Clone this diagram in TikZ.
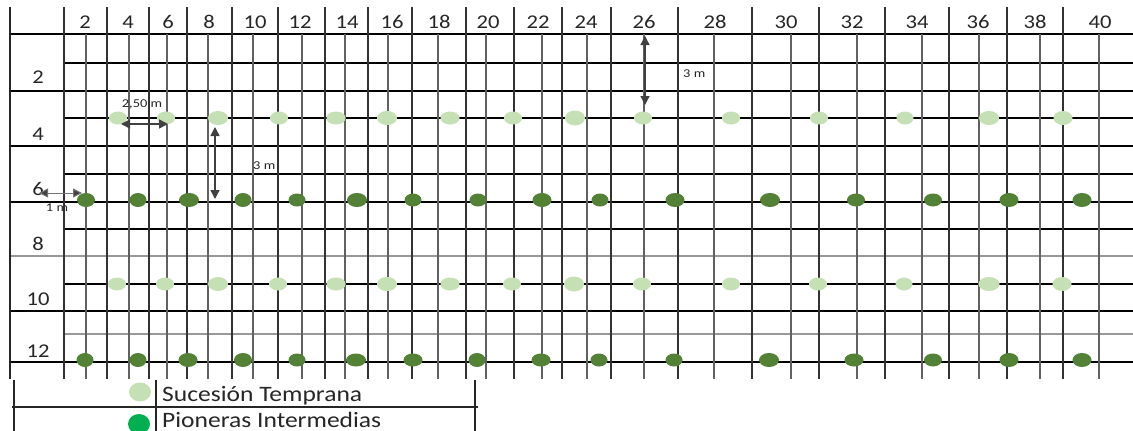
\documentclass[tikz,border=0pt]{standalone}
\usepackage{fontspec}
\setmainfont{Carlito}
\usetikzlibrary{arrows.meta,shapes.geometric}
\definecolor{lightg}{HTML}{C5E0B4}
\definecolor{darkg}{HTML}{538135}
\definecolor{legg}{HTML}{00B050}
\definecolor{arrowc}{HTML}{404040}
\definecolor{txt}{HTML}{262626}
\newcommand\wideT[2][1.16]{\scalebox{#1}[1]{#2}}
\begin{document}
\begin{tikzpicture}[x=1pt,y=-1pt,
  gridv/.style={line width=1.3pt, black!62},
  gridsep/.style={line width=1.3pt, black!80},
  gridh/.style={line width=1.2pt, black},
  gridhl/.style={line width=1.2pt, black!40},
  legline/.style={line width=1.2pt, black!85},
  hdr/.style={anchor=base, inner sep=0pt, text=txt, font=\fontsize{19.5}{20}\selectfont},
  small/.style={inner sep=0pt, text=txt, font=\fontsize{12}{12}\selectfont},
  legtext/.style={anchor=base west, inner sep=0pt, text=txt, font=\fontsize{22}{22}\selectfont},
  dot/.style={ellipse, inner sep=0pt, draw=none},
  lightdot/.style={dot, fill=lightg},
  darkdot/.style={dot, fill=darkg},
  dim/.style={line width=1.4pt, arrowc, {Triangle[length=9pt,width=9pt]}-{Triangle[length=9pt,width=9pt]}},
  dimthin/.style={line width=1pt, black!55, {Triangle[length=9pt,width=9pt,fill=arrowc]}-{Triangle[length=9pt,width=9pt,fill=arrowc]}}
]
\useasboundingbox (0,0) rectangle (1133,431);

% horizontal grid lines
\foreach \y in {34,91,146,202,311,362} \draw[gridh] (10,\y) -- (1133,\y);
\draw[gridhl] (10,256) -- (1133,256);
\foreach \y in {63,118,174,229,284} \draw[gridh] (64,\y) -- (1133,\y);
\draw[gridhl] (64,334) -- (1133,334);

% vertical grid lines
\foreach \x in {86,129,167,208,253,302,345,388,438,486,542,587,644,714,791,857,922,979,1040,1099}
  \draw[gridv] (\x,34) -- (\x,379);
\foreach \x in {64,107,149,187,232,278,325,368,412,466,514,562,611,678,752,819,885,949,1007,1063}
  \draw[gridsep] (\x,7) -- (\x,379);
\draw[line width=2.6pt, black!85] (10,7) -- (10,379);

% column headers
\foreach \x/\n in {85/2,128/4,168/6,209/8,255/10,300/12,347/14,392/16,439/18,488/20,538/22,586/24,644/26,715/28,786/30,852/32,917/34,978/36,1035/38,1100/40}
  \node[hdr] (col\n) at (\x,28) {\wideT{\n}};

% row labels
\foreach \y/\n in {83.5/2,140/4,195/6,250/8,305/10,357/12}
  \node[hdr] (row\n) at (38,\y) {\wideT{\n}};

% light dots (Sucesion Temprana)
\foreach \x/\w/\h [count=\i] in {118/18/13,166/18/13,218/20/14,279/18/13,336/19/13,387/20/14,450/19/13,513/18/13,575/20/15,643/18/13,731/18/13,819/18/13,905/17/13,989/20/14,1063/19/14}
  \node[lightdot, minimum width=\w pt, minimum height=\h pt] (sa\i) at (\x,118) {};
\foreach \x/\w/\h [count=\i] in {117/18/13,165/18/13,218/20/14,278/18/13,336/19/13,387/20/14,450/19/13,512/18/13,574/20/15,642/18/13,731/18/13,818/18/13,904/17/13,989/21/14,1062/19/14}
  \node[lightdot, minimum width=\w pt, minimum height=\h pt] (sb\i) at (\x,284) {};

% dark dots (Pioneras Intermedias)
\foreach \x/\w/\h [count=\i] in {86/18/14,138/17/14,189/20/14,243/17/14,297/17/13,357/20/14,413/17/13,478/17/13,542/19/14,600/17/13,675/19/14,770/20/14,856/18/13,933/18/13,1009/19/14,1082/19/14}
  \node[darkdot, minimum width=\w pt, minimum height=\h pt] (pa\i) at (\x,200) {};
\foreach \x/\w/\h [count=\i] in {85/17/14,138/17/14,188/19/14,243/18/14,297/17/13,356/20/13,413/19/13,477/17/14,541/19/13,599/17/13,674/17/13,769/20/14,854/19/13,933/18/13,1009/19/14,1082/19/14}
  \node[darkdot, minimum width=\w pt, minimum height=\h pt] (pb\i) at (\x,360) {};

% dimension arrows
\coordinate (a1l) at (121,124); \coordinate (a1r) at (168,124);
\draw[dim] (a1l) -- (a1r);
\node[small] (t250) at (142,104) {\wideT[1.2]{2,50 m}};
\coordinate (a2t) at (215,127); \coordinate (a2b) at (215,199);
\draw[dim] (a2t) -- (a2b);
\node[small, anchor=west] (t3a) at (253,166) {\wideT[1.2]{3 m}};
\coordinate (a3l) at (39,193); \coordinate (a3r) at (82,193);
\draw[dimthin] (a3l) -- (a3r);
\node[small] (t1) at (57,208) {\wideT[1.2]{1 m}};
\coordinate (a4t) at (645,36); \coordinate (a4b) at (645,105);
\draw[dim] (a4t) -- (a4b);
\node[small, anchor=west] (t3b) at (683,74) {\wideT[1.2]{3 m}};

% legend
\draw[legline] (14,380) -- (14,431);
\draw[legline] (156,380) -- (156,431);
\draw[legline] (475,380) -- (475,431);
\draw[legline] (12,407) -- (478,407);
\node[dot, fill=lightg, minimum width=22pt, minimum height=19pt] (legs) at (140,392) {};
\node[dot, fill=legg, minimum width=22pt, minimum height=20pt] (legp) at (139,424) {};
\node[legtext] (legst) at (162,401.5) {\wideT[1.16]{Sucesión Temprana}};
\node[legtext] (legpt) at (162,427) {\wideT[1.16]{Pioneras Intermedias}};
\end{tikzpicture}
\end{document}
